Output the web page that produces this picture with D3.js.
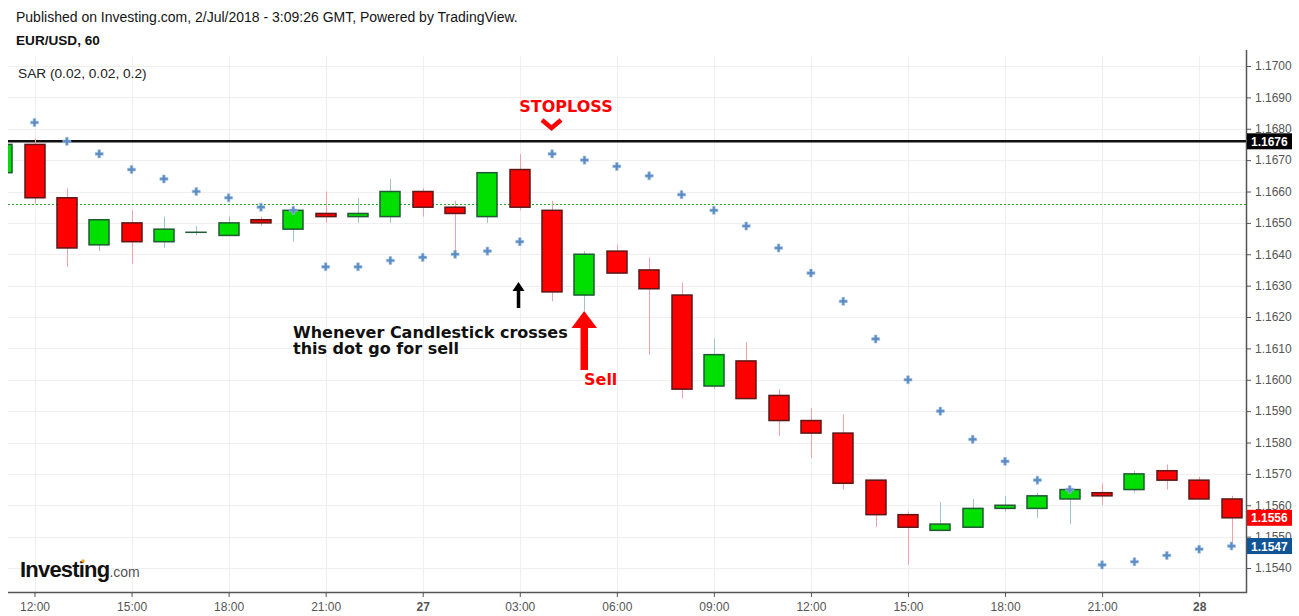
<!DOCTYPE html>
<html><head><meta charset="utf-8">
<script src="https://cdn.jsdelivr.net/npm/d3@7"></script>
<style>body{margin:0;background:#fff;} svg{display:block;}</style>
</head><body><svg id="c" width="1299" height="616"></svg>
<script>
// ---------- DATA ----------
const times = ["2018-06-26 11:00","2018-06-26 12:00","2018-06-26 13:00","2018-06-26 14:00","2018-06-26 15:00","2018-06-26 16:00","2018-06-26 17:00","2018-06-26 18:00","2018-06-26 19:00","2018-06-26 20:00","2018-06-26 21:00","2018-06-26 22:00","2018-06-26 23:00","2018-06-27 00:00","2018-06-27 01:00","2018-06-27 02:00","2018-06-27 03:00","2018-06-27 04:00","2018-06-27 05:00","2018-06-27 06:00","2018-06-27 07:00","2018-06-27 08:00","2018-06-27 09:00","2018-06-27 10:00","2018-06-27 11:00","2018-06-27 12:00","2018-06-27 13:00","2018-06-27 14:00","2018-06-27 15:00","2018-06-27 16:00","2018-06-27 17:00","2018-06-27 18:00","2018-06-27 19:00","2018-06-27 20:00","2018-06-27 21:00","2018-06-27 22:00","2018-06-27 23:00","2018-06-28 00:00","2018-06-28 01:00"];
const openV  = [1.1666,1.1675,1.1658,1.1643,1.1650,1.1644,1.1647,1.1646,1.1651,1.1648,1.1653,1.1652,1.1652,1.1660,1.1655,1.1652,1.1667,1.1654,1.1627,1.1641,1.1635,1.1627,1.1598,1.1606,1.1595,1.1587,1.1583,1.1568,1.1557,1.1552,1.1553,1.1559,1.1559,1.1562,1.1564,1.1565,1.1571,1.1568,1.1562];
const highV  = [1.1676,1.1677,1.1661,1.1651,1.1654,1.1652,1.1649,1.1652,1.1652,1.1655,1.1660,1.1658,1.1664,1.1661,1.1657,1.1666,1.1672,1.1657,1.1641,1.1643,1.1639,1.1631,1.1613,1.1612,1.1597,1.1591,1.1589,1.1568,1.1558,1.1561,1.1562,1.1563,1.1564,1.1566,1.1567,1.1571,1.1573,1.1569,1.1563];
const lowV   = [1.1665,1.1656,1.1636,1.1641,1.1637,1.1642,1.1646,1.1646,1.1649,1.1644,1.1650,1.1650,1.1650,1.1652,1.1640,1.1650,1.1654,1.1625,1.1622,1.1634,1.1608,1.1594,1.1597,1.1594,1.1582,1.1575,1.1565,1.1553,1.1541,1.1552,1.1553,1.1558,1.1556,1.1554,1.1560,1.1564,1.1565,1.1562,1.1547];
const closeV = [1.1675,1.1658,1.1642,1.1651,1.1644,1.1648,1.1647,1.1650,1.1650,1.1654,1.1652,1.1653,1.1660,1.1655,1.1653,1.1666,1.1655,1.1628,1.1640,1.1634,1.1629,1.1597,1.1608,1.1594,1.1587,1.1583,1.1567,1.1557,1.1553,1.1554,1.1559,1.1560,1.1563,1.1565,1.1563,1.1570,1.1568,1.1562,1.1556];
const sarV   = [null,1.1682,1.1676,1.1672,1.1667,1.1664,1.1660,1.1658,1.1655,1.1654,1.1636,1.1636,1.1638,1.1639,1.1640,1.1641,1.1644,1.1672,1.1670,1.1668,1.1665,1.1659,1.1654,1.1649,1.1642,1.1634,1.1625,1.1613,1.1600,1.1590,1.1581,1.1574,1.1568,1.1565,1.1541,1.1542,1.1544,1.1546,1.1547];
const xTickTimes  = ["2018-06-26 12:00","2018-06-26 15:00","2018-06-26 18:00","2018-06-26 21:00","2018-06-27 00:00","2018-06-27 03:00","2018-06-27 06:00","2018-06-27 09:00","2018-06-27 12:00","2018-06-27 15:00","2018-06-27 18:00","2018-06-27 21:00","2018-06-28 00:00"];
const xTickLabels = ["12:00","15:00","18:00","21:00","27","03:00","06:00","09:00","12:00","15:00","18:00","21:00","28"];
const yTicks = [1.1540,1.1550,1.1560,1.1570,1.1580,1.1590,1.1600,1.1610,1.1620,1.1630,1.1640,1.1650,1.1660,1.1670,1.1680,1.1690,1.1700];
const stopLevel = 1.1676;
const dottedLevel = 1.1656;
const lastClose = 1.1556;
const lastSar = 1.1547;

// ---------- SETUP ----------
const svg = d3.select("#c");
const P = {left:8, right:1246, top:56, bottom:592};
const parse = d3.timeParse("%Y-%m-%d %H:%M");
const dates = times.map(parse);
const x = d3.scaleTime().domain([parse("2018-06-26 12:00"), parse("2018-06-28 01:00")]).range([34.5, 1231.5]);
const y = d3.scaleLinear().domain([1.1540, 1.1700]).range([568, 66]);
const FONT = "'Liberation Sans', Arial, sans-serif";

svg.append("defs").append("clipPath").attr("id","clip")
  .append("rect").attr("x",P.left).attr("y",P.top).attr("width",P.right-P.left).attr("height",P.bottom-P.top);

// grid
const grid = svg.append("g");
grid.selectAll(".vg").data(xTickTimes.map(parse)).join("line")
  .attr("x1",d=>Math.round(x(d))+0.5).attr("x2",d=>Math.round(x(d))+0.5)
  .attr("y1",P.top).attr("y2",P.bottom).attr("stroke","#efefef").attr("stroke-width",1);
grid.selectAll(".hg").data(yTicks).join("line")
  .attr("x1",P.left).attr("x2",P.right)
  .attr("y1",d=>Math.round(y(d))+0.5).attr("y2",d=>Math.round(y(d))+0.5)
  .attr("stroke","#efefef").attr("stroke-width",1);

// header texts
svg.append("text").attr("x",16).attr("y",22).attr("font-family",FONT).attr("font-size",14).attr("fill","#151515")
  .text("Published on Investing.com, 2/Jul/2018 - 3:09:26 GMT, Powered by TradingView.");
svg.append("text").attr("x",16).attr("y",45).attr("font-family",FONT).attr("font-size",13.6).attr("font-weight","bold").attr("fill","#111")
  .text("EUR/USD, 60");
svg.append("text").attr("x",18).attr("y",78).attr("font-family",FONT).attr("font-size",13.7).attr("fill","#222")
  .text("SAR (0.02, 0.02, 0.2)");

const plot = svg.append("g").attr("clip-path","url(#clip)");

// dotted level
plot.append("line").attr("x1",P.left).attr("x2",P.right)
  .attr("y1",Math.round(y(dottedLevel))+0.5).attr("y2",Math.round(y(dottedLevel))+0.5)
  .attr("stroke","#22aa22").attr("stroke-width",1).attr("stroke-dasharray","2,2");

// stop level line
plot.append("line").attr("x1",P.left).attr("x2",P.right)
  .attr("y1",y(stopLevel)).attr("y2",y(stopLevel))
  .attr("stroke","#111").attr("stroke-width",2.5);

// candles
const idx = d3.range(times.length);
const up = i => closeV[i] >= openV[i];
plot.selectAll(".wick").data(idx).join("line")
  .attr("x1",i=>Math.round(x(dates[i]))+0.5).attr("x2",i=>Math.round(x(dates[i]))+0.5)
  .attr("y1",i=>y(highV[i])).attr("y2",i=>y(lowV[i]))
  .attr("stroke",i=>up(i)?"#9fc3ca":"#f3a0aa").attr("stroke-width",1);
plot.selectAll(".body").data(idx).join("rect")
  .attr("x",i=>Math.round(x(dates[i]))-10).attr("width",20)
  .attr("y",i=>y(Math.max(openV[i],closeV[i])))
  .attr("height",i=>Math.max(0.01,Math.abs(y(openV[i])-y(closeV[i]))))
  .attr("fill",i=>up(i)?"#00e000":"#ff0000")
  .attr("stroke",i=>up(i)?"#1f5a33":"#5e1616").attr("stroke-width",1.5);

// SAR
plot.selectAll(".sar").data(idx.filter(i=>sarV[i]!=null)).join("path")
  .attr("d",d3.symbol(d3.symbolCross,36))
  .attr("transform",i=>`translate(${x(dates[i])},${y(sarV[i])})`)
  .attr("fill","#5b8cc4").attr("stroke","#a6c2e3").attr("stroke-width",0.6);

// axes
const yAxis = d3.axisRight(y).tickValues(yTicks).tickFormat(d3.format(".4f")).tickSize(5).tickPadding(4);
const gy = svg.append("g").attr("transform",`translate(${P.right},0)`).call(yAxis);
gy.select(".domain").remove();
gy.selectAll("line").attr("stroke","#555");
gy.selectAll("text").attr("font-family",FONT).attr("font-size",12).attr("fill","#555");
svg.append("line").attr("x1",P.right+0.5).attr("x2",P.right+0.5).attr("y1",P.top-6).attr("y2",P.bottom+1).attr("stroke","#555").attr("stroke-width",1.5);

const xAxis = d3.axisBottom(x).tickValues(xTickTimes.map(parse)).tickFormat((d,i)=>xTickLabels[i]).tickSize(5).tickPadding(5);
const gx = svg.append("g").attr("transform",`translate(0,${P.bottom})`).call(xAxis);
gx.select(".domain").remove();
gx.selectAll("line").attr("stroke","#555");
gx.selectAll("text").attr("font-family",FONT).attr("font-size",12).attr("fill","#555")
  .attr("font-weight",(d,i)=>/^\d+$/.test(xTickLabels[i])?"bold":"normal");
svg.append("line").attr("x1",P.left).attr("x2",P.right+1).attr("y1",P.bottom+0.5).attr("y2",P.bottom+0.5).attr("stroke","#555").attr("stroke-width",1.5);

// price label boxes
function priceBox(v, color){
  const g = svg.append("g").attr("transform",`translate(${P.right+1},${y(v)})`);
  g.append("rect").attr("x",0).attr("y",-8).attr("width",45).attr("height",16).attr("fill",color);
  g.append("text").attr("x",4).attr("y",4.5).attr("font-family",FONT).attr("font-size",12).attr("font-weight","bold")
    .attr("fill","#fff").text(d3.format(".4f")(v));
}
priceBox(stopLevel,"#000");
priceBox(lastClose,"#ff0000");
priceBox(lastSar,"#0f5495");

// annotations
const AF = "'DejaVu Sans', Verdana, sans-serif";
svg.append("text").attr("x",566).attr("y",112).attr("text-anchor","middle").attr("font-family",AF)
  .attr("font-weight","bold").attr("font-size",16).attr("fill","#ff0000").text("STOPLOSS");
svg.append("path").attr("d","M542,120 L551.5,128 L561,120").attr("fill","none").attr("stroke","#ff0000")
  .attr("stroke-width",4.5).attr("stroke-linejoin","miter");
// black arrow
svg.append("line").attr("x1",518.5).attr("x2",518.5).attr("y1",289).attr("y2",308).attr("stroke","#000").attr("stroke-width",3.5);
svg.append("path").attr("d","M518.5,282 L524.5,291 L512.5,291 Z").attr("fill","#000");
// text
svg.append("text").attr("x",293).attr("y",338).attr("font-family",AF).attr("font-weight","bold").attr("font-size",16).attr("fill","#111")
  .text("Whenever Candlestick crosses");
svg.append("text").attr("x",293).attr("y",354).attr("font-family",AF).attr("font-weight","bold").attr("font-size",16).attr("fill","#111")
  .text("this dot go for sell");
// red arrow
svg.append("rect").attr("x",580.5).attr("y",326).attr("width",7.5).attr("height",44).attr("fill","#ff0000");
svg.append("path").attr("d","M584.2,311 L597,328 L571.5,328 Z").attr("fill","#ff0000");
svg.append("text").attr("x",584).attr("y",385).attr("font-family",AF).attr("font-weight","bold")
  .attr("font-size",16).attr("fill","#ff0000").text("Sell");

// logo
const logo = svg.append("text").attr("x",20).attr("y",577).attr("font-family",FONT);
logo.append("tspan").attr("font-size",22).attr("font-weight","bold").attr("fill","#111").attr("letter-spacing",-0.8).text("Investing");
logo.append("tspan").attr("font-size",14).attr("fill","#555").text(".com");
svg.append("circle").attr("cx",83).attr("cy",561).attr("r",1.8).attr("fill","#f5a623");
</script></body></html>
